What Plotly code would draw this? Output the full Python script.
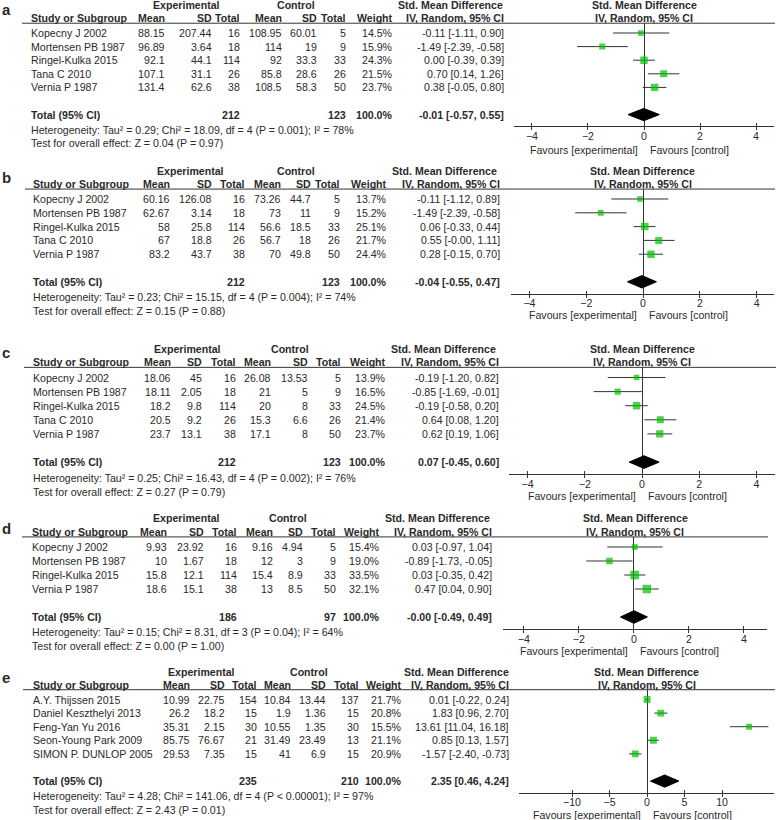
import math
import plotly.graph_objects as go

W, H = 784, 820

# ---------------- data ----------------
studies_a = ["Kopecny J 2002", "Mortensen PB 1987", "Ringel-Kulka 2015", "Tana C 2010", "Vernia P 1987"]
exp_mean_a = [88.15, 96.89, 92.1, 107.1, 131.4]
exp_sd_a = [207.44, 3.64, 44.1, 31.1, 62.6]
exp_n_a = [16, 18, 114, 26, 38]
ctl_mean_a = [108.95, 114, 92, 85.8, 108.5]
ctl_sd_a = [60.01, 19, 33.3, 28.6, 58.3]
ctl_n_a = [5, 9, 33, 26, 50]
weight_a = [14.5, 15.9, 24.3, 21.5, 23.7]
smd_a = [-0.11, -1.49, 0.00, 0.70, 0.38]
lo_a = [-1.11, -2.39, -0.39, 0.14, -0.05]
hi_a = [0.90, -0.58, 0.39, 1.26, 0.80]
total_a = [-0.01, -0.57, 0.55]
het_a = "Heterogeneity: Tau² = 0.29; Chi² = 18.09, df = 4 (P = 0.001); I² = 78%"
test_a = "Test for overall effect: Z = 0.04 (P = 0.97)"

studies_b = ["Kopecny J 2002", "Mortensen PB 1987", "Ringel-Kulka 2015", "Tana C 2010", "Vernia P 1987"]
exp_mean_b = [60.16, 62.67, 58, 67, 83.2]
exp_sd_b = [126.08, 3.14, 25.8, 18.8, 43.7]
exp_n_b = [16, 18, 114, 26, 38]
ctl_mean_b = [73.26, 73, 56.6, 56.7, 70]
ctl_sd_b = [44.7, 11, 18.5, 18, 49.8]
ctl_n_b = [5, 9, 33, 26, 50]
weight_b = [13.7, 15.2, 25.1, 21.7, 24.4]
smd_b = [-0.11, -1.49, 0.06, 0.55, 0.28]
lo_b = [-1.12, -2.39, -0.33, -0.0, -0.15]
hi_b = [0.89, -0.58, 0.44, 1.11, 0.70]
total_b = [-0.04, -0.55, 0.47]
het_b = "Heterogeneity: Tau² = 0.23; Chi² = 15.15, df = 4 (P = 0.004); I² = 74%"
test_b = "Test for overall effect: Z = 0.15 (P = 0.88)"

studies_c = ["Kopecny J 2002", "Mortensen PB 1987", "Ringel-Kulka 2015", "Tana C 2010", "Vernia P 1987"]
exp_mean_c = [18.06, 18.11, 18.2, 20.5, 23.7]
exp_sd_c = [45, 2.05, 9.8, 9.2, 13.1]
exp_n_c = [16, 18, 114, 26, 38]
ctl_mean_c = [26.08, 21, 20, 15.3, 17.1]
ctl_sd_c = [13.53, 5, 8, 6.6, 8]
ctl_n_c = [5, 9, 33, 26, 50]
weight_c = [13.9, 16.5, 24.5, 21.4, 23.7]
smd_c = [-0.19, -0.85, -0.19, 0.64, 0.62]
lo_c = [-1.20, -1.69, -0.58, 0.08, 0.19]
hi_c = [0.82, -0.01, 0.20, 1.20, 1.06]
total_c = [0.07, -0.45, 0.60]
het_c = "Heterogeneity: Tau² = 0.25; Chi² = 16.43, df = 4 (P = 0.002); I² = 76%"
test_c = "Test for overall effect: Z = 0.27 (P = 0.79)"

studies_d = ["Kopecny J 2002", "Mortensen PB 1987", "Ringel-Kulka 2015", "Vernia P 1987"]
exp_mean_d = [9.93, 10, 15.8, 18.6]
exp_sd_d = [23.92, 1.67, 12.1, 15.1]
exp_n_d = [16, 18, 114, 38]
ctl_mean_d = [9.16, 12, 15.4, 13]
ctl_sd_d = [4.94, 3, 8.9, 8.5]
ctl_n_d = [5, 9, 33, 50]
weight_d = [15.4, 19.0, 33.5, 32.1]
smd_d = [0.03, -0.89, 0.03, 0.47]
lo_d = [-0.97, -1.73, -0.35, 0.04]
hi_d = [1.04, -0.05, 0.42, 0.90]
total_d = [-0.0, -0.49, 0.49]
het_d = "Heterogeneity: Tau² = 0.15; Chi² = 8.31, df = 3 (P = 0.04); I² = 64%"
test_d = "Test for overall effect: Z = 0.00 (P = 1.00)"

studies_e = ["A.Y. Thijssen 2015", "Daniel Keszthelyi 2013", "Feng-Yan Yu 2016", "Seon-Young Park 2009", "SIMON P. DUNLOP 2005"]
exp_mean_e = [10.99, 26.2, 35.31, 85.75, 29.53]
exp_sd_e = [22.75, 18.2, 2.15, 76.67, 7.35]
exp_n_e = [154, 15, 30, 21, 15]
ctl_mean_e = [10.84, 1.9, 10.55, 31.49, 41]
ctl_sd_e = [13.44, 1.36, 1.35, 23.49, 6.9]
ctl_n_e = [137, 15, 30, 13, 15]
weight_e = [21.7, 20.8, 15.5, 21.1, 20.9]
smd_e = [0.01, 1.83, 13.61, 0.85, -1.57]
lo_e = [-0.22, 0.96, 11.04, 0.13, -2.40]
hi_e = [0.24, 2.70, 16.18, 1.57, -0.73]
total_e = [2.35, 0.46, 4.24]
het_e = "Heterogeneity: Tau² = 4.28; Chi² = 141.06, df = 4 (P < 0.00001); I² = 97%"
test_e = "Test for overall effect: Z = 2.43 (P = 0.01)"

ticks_small = [-4, -2, 0, 2, 4]
ticks_wide = [-10, -5, 0, 5, 10]

# ---------------- layout geometry (pixels) ----------------
geom = {
    "a": dict(y0=33, pitch=13.6, label_y=9, fav_y=150, rule_x0=22, cols=[30, 166, 213, 241, 283, 318, 347, 394, 505],
              exp_c=186, ctl_c=296, smd_c=450, fx=(514, 774), xr=[-4.64, 4.64], ticks=ticks_small),
    "b": dict(y0=199, pitch=13.8, label_y=178, fav_y=315, rule_x0=25, cols=[32, 171, 213, 246, 282, 312, 341, 388, 501],
              exp_c=190, ctl_c=296, smd_c=445, fx=(511, 774), xr=[-4.65, 4.61], ticks=ticks_small),
    "c": dict(y0=377.5, pitch=14.1, label_y=353, fav_y=496, rule_x0=24, cols=[32, 172, 203, 237, 272, 309, 342, 387, 500],
              exp_c=187, ctl_c=290, smd_c=443, fx=(509, 775), xr=[-4.65, 4.65], ticks=ticks_small),
    "d": dict(y0=547, pitch=14.0, label_y=528, fav_y=651, rule_x0=22, cols=[31, 168, 205, 238, 274, 304, 337, 381, 493],
              exp_c=186, ctl_c=288, smd_c=437, fx=(503, 767), xr=[-4.76, 4.84], ticks=ticks_small),
    "e": dict(y0=699.5, pitch=13.6, label_y=677, fav_y=815, rule_x0=23, cols=[32, 191, 226, 258, 292, 327, 360, 403, 510],
              exp_c=202, ctl_c=309, smd_c=456, fx=(519, 774), xr=[-17.07, 16.93], ticks=ticks_wide),
}

panels = [
    ("a", studies_a, exp_mean_a, exp_sd_a, exp_n_a, ctl_mean_a, ctl_sd_a, ctl_n_a, weight_a, smd_a, lo_a, hi_a, total_a, het_a, test_a),
    ("b", studies_b, exp_mean_b, exp_sd_b, exp_n_b, ctl_mean_b, ctl_sd_b, ctl_n_b, weight_b, smd_b, lo_b, hi_b, total_b, het_b, test_b),
    ("c", studies_c, exp_mean_c, exp_sd_c, exp_n_c, ctl_mean_c, ctl_sd_c, ctl_n_c, weight_c, smd_c, lo_c, hi_c, total_c, het_c, test_c),
    ("d", studies_d, exp_mean_d, exp_sd_d, exp_n_d, ctl_mean_d, ctl_sd_d, ctl_n_d, weight_d, smd_d, lo_d, hi_d, total_d, het_d, test_d),
    ("e", studies_e, exp_mean_e, exp_sd_e, exp_n_e, ctl_mean_e, ctl_sd_e, ctl_n_e, weight_e, smd_e, lo_e, hi_e, total_e, het_e, test_e),
]

FONT = "Liberation Sans, Arial, sans-serif"
FS = 10.6
TXT = "#2a2a2a"
LINE = "#333333"
GREEN = "#00c000"

fig = go.Figure()
annotations = []
shapes = []
layout_axes = {}
NP = len(panels)


def num(v):
    return str(v)


def ci(e, l, h):
    return f"{e:.2f} [{l:.2f}, {h:.2f}]"


def ann(text, xpx, ypx, anchor="left", bold=False, size=FS):
    annotations.append(dict(
        text=f"<b>{text}</b>" if bold else text,
        x=xpx / W, xref="paper", y=1 - ypx / H, yref="paper", xanchor=anchor, yanchor="middle",
        showarrow=False, borderpad=0, font=dict(family=FONT, size=size, color=TXT)))


for k, (lab, studies, em, es, en, cm, cs, cn, wt, smd, lo, hi, tot, het, test) in enumerate(panels, start=1):
    g = geom[lab]
    xa = "x" if k == 1 else f"x{k}"
    ya = "y" if k == 1 else f"y{k}"
    n = len(studies)
    y0, p = g["y0"], g["pitch"]
    row = lambda r: y0 + r * p
    top_r, bot_r = -0.72, n + 1.85
    top_px, bot_px = row(top_r), row(bot_r)
    fx0, fx1 = g["fx"]
    xr0, xr1 = g["xr"]
    zero_px = fx0 + (0 - xr0) / (xr1 - xr0) * (fx1 - fx0)
    mid_px = (fx0 + fx1) / 2

    layout_axes["xaxis" if k == 1 else f"xaxis{k}"] = dict(
        domain=[fx0 / W, fx1 / W], range=g["xr"], anchor=ya, showgrid=False,
        zeroline=True, zerolinecolor=LINE, zerolinewidth=1,
        showline=True, linecolor=LINE, linewidth=1, ticks="outside", ticklen=3,
        tickcolor=LINE, tickwidth=1, tickvals=g["ticks"], ticklabelstandoff=-3,
        tickfont=dict(family=FONT, size=FS, color=TXT), fixedrange=True)
    # companion axis drawing the upper half of each tick mark
    layout_axes[f"xaxis{k + NP}"] = dict(
        overlaying=xa, domain=[fx0 / W, fx1 / W], range=g["xr"], anchor=ya, side="bottom",
        showgrid=False, zeroline=False, showline=False, ticks="inside", ticklen=3,
        tickcolor=LINE, tickwidth=1, tickvals=g["ticks"], showticklabels=False, fixedrange=True)
    layout_axes["yaxis" if k == 1 else f"yaxis{k}"] = dict(
        domain=[1 - bot_px / H, 1 - top_px / H], range=[bot_r, top_r], anchor=xa,
        visible=False, showgrid=False, zeroline=False, fixedrange=True)

    # CI whiskers
    xs, ys = [], []
    for i, (l, h) in enumerate(zip(lo, hi)):
        xs += [l, h, None]
        ys += [i, i, None]
    fig.add_trace(go.Scatter(x=xs, y=ys, mode="lines", line=dict(color=LINE, width=1),
                             xaxis=xa, yaxis=ya, hoverinfo="skip"))
    # squares
    fig.add_trace(go.Scatter(x=smd, y=list(range(n)), mode="markers",
                             marker=dict(symbol="square", color=GREEN,
                                         size=[1.5 * math.sqrt(w) for w in wt], line=dict(width=0)),
                             xaxis=xa, yaxis=ya))
    # diamond
    t = n + 1
    te, tl, th = tot
    fig.add_trace(go.Scatter(x=[tl, te, th, te, tl], y=[t, t - 0.45, t, t + 0.45, t],
                             mode="lines", fill="toself", fillcolor="black",
                             line=dict(color="black", width=1), xaxis=xa, yaxis=ya))
    # invisible trace on the companion axis so it is drawn
    fig.add_trace(go.Scatter(x=[te], y=[t], mode="markers", marker=dict(size=1, opacity=0),
                             xaxis=f"x{k + NP}", yaxis=ya, hoverinfo="skip"))

    # header rule
    shapes.append(dict(type="line", xref="paper", yref="paper", x0=g["rule_x0"] / W, x1=(fx1 + 1) / W,
                       y0=1 - top_px / H, y1=1 - top_px / H, line=dict(color=LINE, width=1)))

    c = g["cols"]
    # panel letter
    ann(lab, 1, g["label_y"], bold=True, size=15)
    # headers
    h1, h2 = row(-2.05), row(-1.1)
    ann("Experimental", g["exp_c"], h1, "center", True)
    ann("Control", g["ctl_c"], h1, "center", True)
    ann("Std. Mean Difference", g["smd_c"], h1, "center", True)
    ann("Std. Mean Difference", mid_px, h1, "center", True)
    ann("Study or Subgroup", c[0], h2, "left", True)
    for txt, xp in zip(["Mean", "SD", "Total", "Mean", "SD", "Total", "Weight", "IV, Random, 95% CI"], c[1:]):
        ann(txt, xp, h2, "right", True)
    ann("IV, Random, 95% CI", mid_px, h2, "center", True)
    # study rows
    for i in range(n):
        ann(studies[i], c[0], row(i), "left")
        vals = [num(em[i]), num(es[i]), num(en[i]), num(cm[i]), num(cs[i]), num(cn[i]),
                f"{wt[i]:.1f}%", ci(smd[i], lo[i], hi[i])]
        for v, xp in zip(vals, c[1:]):
            ann(v, xp, row(i), "right")
    # total row
    ann("Total (95% CI)", c[0], row(t), "left", True)
    ann(str(sum(en)), c[3], row(t), "right", True)
    ann(str(sum(cn)), c[6], row(t), "right", True)
    ann("100.0%", c[7], row(t), "right", True)
    ann(ci(te, tl, th), c[8], row(t), "right", True)
    ann(het, c[0], row(n + 2.1), "left")
    ann(test, c[0], row(n + 3.1), "left")
    # favours
    ann("Favours [experimental]", zero_px - 5, g["fav_y"], "right")
    ann("Favours [control]", zero_px + 5, g["fav_y"], "left")

fig.update_layout(width=W, height=H, margin=dict(l=0, r=0, t=0, b=0),
                  paper_bgcolor="white", plot_bgcolor="white", showlegend=False,
                  annotations=annotations, shapes=shapes, **layout_axes)

fig.write_html("out.html", config={"displayModeBar": False},
               post_script="document.body.style.margin='0';document.body.style.overflow='hidden';")
